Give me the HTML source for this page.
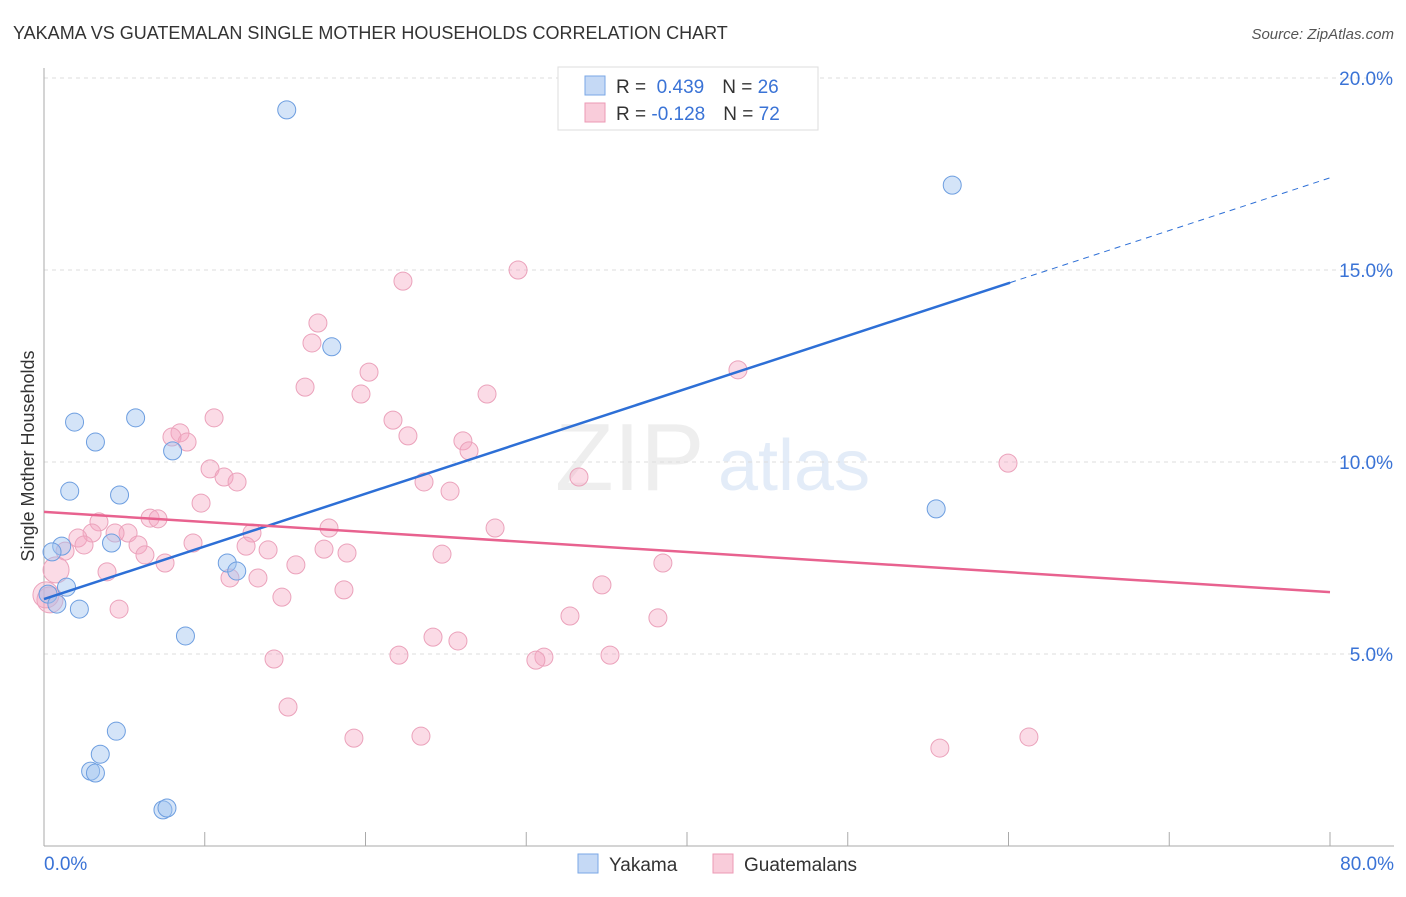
<!DOCTYPE html>
<html><head><meta charset="utf-8"><style>
body{margin:0;background:#fff;font-family:"Liberation Sans",sans-serif}
svg text{font-family:"Liberation Sans",sans-serif}
</style></head><body>
<svg id="chart" width="1406" height="892" xmlns="http://www.w3.org/2000/svg">
<text x="13" y="39" font-size="18" fill="#333">YAKAMA VS GUATEMALAN SINGLE MOTHER HOUSEHOLDS CORRELATION CHART</text>
<text x="1394" y="39" font-size="15" fill="#555" text-anchor="end" font-style="italic">Source: ZipAtlas.com</text>
<text x="555" y="490" font-size="96" fill="#eee" font-family="Liberation Serif">ZIP</text>
<text x="718" y="490" font-size="72" fill="#e3ecf8">atlas</text>
<text transform="translate(34,456) rotate(-90)" font-size="18" fill="#333" text-anchor="middle">Single Mother Households</text>
<g id="grid"></g><g id="axes"></g><g id="pts"></g><g id="lines"></g>
<g>
<rect x="558" y="67" width="260" height="63" fill="#fff" stroke="#ddd"/>
<rect x="585" y="76" width="20" height="19" fill="#c5d9f5" stroke="#7aa7e6"/>
<rect x="585" y="103" width="20" height="19" fill="#f9ccda" stroke="#ec9ab4"/>
<text x="616" y="93" font-size="19" fill="#333">R = <tspan fill="#3a73d6">&#160;0.439</tspan><tspan dx="18">N = </tspan><tspan fill="#3a73d6">26</tspan></text>
<text x="616" y="120" font-size="19" fill="#333">R = <tspan fill="#3a73d6">-0.128</tspan><tspan dx="18">N = </tspan><tspan fill="#3a73d6">72</tspan></text>
</g>
<g>
<rect x="578" y="854" width="20" height="19" fill="#c5d9f5" stroke="#7aa7e6"/>
<text x="609" y="871" font-size="19" fill="#333">Yakama</text>
<rect x="713" y="854" width="20" height="19" fill="#f9ccda" stroke="#ec9ab4"/>
<text x="744" y="871" font-size="19" fill="#333">Guatemalans</text>
</g>
</svg>
<script>
const yTicks=[5,10,15,20];
const yTickLabels=["5.0%","10.0%","15.0%","20.0%"];
const xTicks=[0,10,20,30,40,50,60,70,80];
const yakamaX=[15.1,56.5,17.9,1.9,5.7,3.2,8.0,1.6,4.7,55.5,1.1,0.5,4.2,11.4,11.99,1.4,0.25,0.8,2.2,8.8,4.5,3.5,2.9,3.2,7.4,7.65];
const yakamaY=[19.17,17.21,13.0,11.04,11.15,10.52,10.29,9.24,9.14,8.78,7.81,7.66,7.89,7.37,7.16,6.74,6.56,6.3,6.17,5.47,2.99,2.39,1.95,1.9,0.94,0.99];
const guatX=[29.49,22.33,17.04,16.67,20.22,43.17,16.24,19.72,27.56,10.58,21.71,8.46,7.96,8.90,22.64,26.06,26.44,10.33,59.97,11.20,12.01,23.64,25.26,33.28,9.77,6.60,7.09,3.42,17.73,28.06,12.94,5.23,4.42,2.99,2.11,2.49,9.27,5.85,12.57,1.31,13.94,17.42,18.85,24.76,6.28,38.50,7.53,15.67,0.75,3.92,13.31,11.57,34.71,18.66,14.80,4.67,32.72,38.19,24.20,25.75,22.08,35.21,31.10,30.60,14.31,15.18,19.28,23.45,55.73,61.27,0.37,0.12];
const guatY=[15.0,14.71,13.62,13.10,12.34,12.40,11.95,11.77,11.77,11.15,11.09,10.76,10.65,10.52,10.68,10.55,10.29,9.82,9.97,9.61,9.48,9.48,9.24,9.61,8.93,8.54,8.52,8.44,8.28,8.28,8.15,8.15,8.15,8.15,8.02,7.84,7.89,7.84,7.81,7.68,7.71,7.73,7.63,7.60,7.58,7.37,7.37,7.32,7.19,7.14,6.98,6.98,6.80,6.67,6.48,6.17,5.99,5.94,5.44,5.34,4.97,4.97,4.92,4.84,4.87,3.62,2.81,2.86,2.55,2.84,6.41,6.54];
const yakamaTrend=[6.43,17.4];
const guatTrend=[8.70,6.61];
const yakamaSolidEnd=60.1;
const NS="http://www.w3.org/2000/svg";
const sx=v=>44+v/80*1286, sy=v=>846-v*38.4;
function mk(tag,attrs,parent){const e=document.createElementNS(NS,tag);for(const k in attrs)e.setAttribute(k,attrs[k]);document.getElementById(parent).appendChild(e);return e;}
yTicks.forEach((t,i)=>{
 const g=mk('line',{x1:44,x2:1394,y1:sy(t),y2:sy(t),stroke:'#ddd','stroke-dasharray':'4,4'},'grid');
 
 
 const l=mk('text',{x:1393,y:sy(t)+7,'font-size':19,fill:'#3a73d6','text-anchor':'end'},'axes');
 l.textContent=yTickLabels[i];
 
 
});
const ax=mk('line',{x1:44,x2:44,y1:68,y2:846,stroke:'#aaa'},'axes');


const bx=mk('line',{x1:44,x2:1394,y1:846,y2:846,stroke:'#aaa'},'axes');


xTicks.forEach(t=>{
 const k=mk('line',{x1:sx(t),x2:sx(t),y1:832,y2:846,stroke:'#aaa'},'axes');
 
 
});
[[0,"0.0%",'start',44],[80,"80.0%",'end',1394]].forEach(a=>{
 const l=mk('text',{x:a[3],y:870,'font-size':19,fill:'#3a73d6','text-anchor':a[2]},'axes');
 l.textContent=a[1];
 
 
});
guatX.forEach((x,i)=>{
 const c=mk('circle',{cx:sx(x),cy:sy(guatY[i]),r:(x<1?13:9),fill:'rgba(244,164,192,0.4)',stroke:'#eba2bb','stroke-width':1},'pts');
 
 
});
yakamaX.forEach((x,i)=>{
 const c=mk('circle',{cx:sx(x),cy:sy(yakamaY[i]),r:9,fill:'rgba(160,196,240,0.45)',stroke:'#6d9ee0','stroke-width':1},'pts');
 
 
});
const yAt=v=>yakamaTrend[0]+(yakamaTrend[1]-yakamaTrend[0])*v/80;
const l1=mk('line',{x1:sx(0),y1:sy(yakamaTrend[0]),x2:sx(yakamaSolidEnd),y2:sy(yAt(yakamaSolidEnd)),stroke:'#2d6fd6','stroke-width':2.5},'lines');


const l2=mk('line',{x1:sx(yakamaSolidEnd),y1:sy(yAt(yakamaSolidEnd)),x2:sx(80),y2:sy(yakamaTrend[1]),stroke:'#2d6fd6','stroke-width':1,'stroke-dasharray':'6,5'},'lines');


const l3=mk('line',{x1:sx(0),y1:sy(guatTrend[0]),x2:sx(80),y2:sy(guatTrend[1]),stroke:'#e8628f','stroke-width':2.5},'lines');


</script>
</body></html>
